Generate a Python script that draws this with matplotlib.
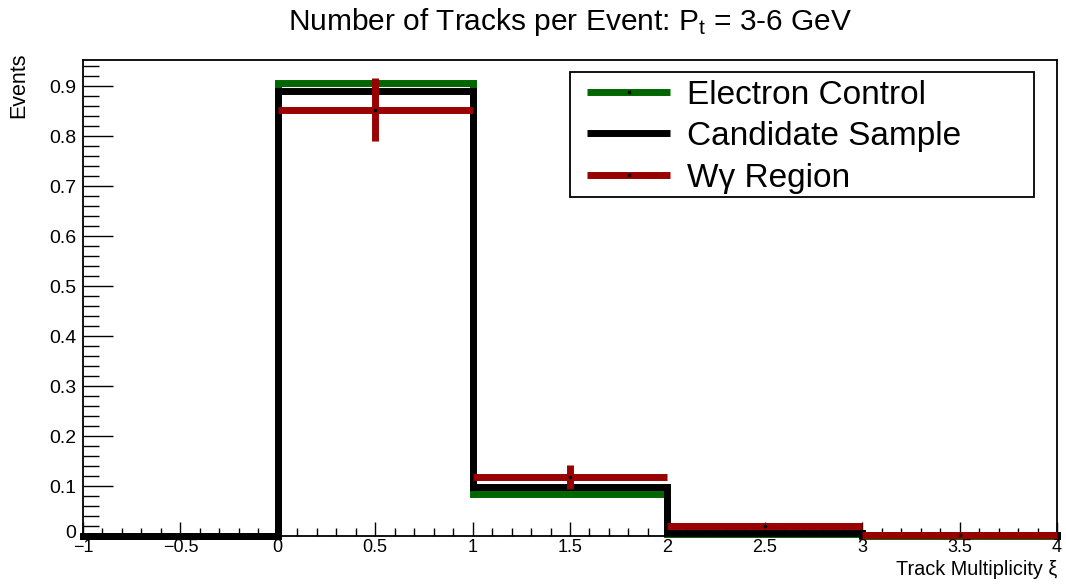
#!/usr/bin/env python3
import matplotlib

matplotlib.use("Agg")
import matplotlib.pyplot as plt
import matplotlib.transforms as mtransforms
import numpy as np
from matplotlib.lines import Line2D
from matplotlib.patches import Rectangle
from matplotlib.ticker import FuncFormatter, MultipleLocator

# histogram data (5 bins of width 1 from -1 to 4)
bin_edges = [-1, 0, 1, 2, 3, 4]
electron_control = [0.0, 0.906, 0.085, 0.004, 0.001]
candidate_sample = [0.0, 0.890, 0.099, 0.006, 0.002]
wgamma_centers = [0.5, 1.5, 2.5, 3.5]
wgamma_values = [0.853, 0.118, 0.021, 0.003]
wgamma_errors = [0.063, 0.024, 0.005, 0.001]

labels = ["Electron Control", "Candidate Sample", "W\u03b3 Region"]
colors = ["#006600", "#000000", "#990000"]

title = r"Number of Tracks per Event: P$_{\mathrm{t}}$ = 3-6 GeV"
x_label = "Track Multiplicity \u03be"
y_label = "Events"

plt.rcParams["font.family"] = ["Liberation Sans", "DejaVu Sans"]
plt.rcParams["mathtext.fontset"] = "custom"
plt.rcParams["mathtext.rm"] = "Liberation Sans"
plt.rcParams["mathtext.it"] = "Liberation Sans"

W, H = 1066, 584
fig = plt.figure(figsize=(W / 100, H / 100), dpi=100)
fig.subplots_adjust(left=83 / W, right=1057 / W, bottom=1 - 536 / H, top=1 - 60 / H)
ax = fig.add_subplot(111)

lw = 5.0
for vals, col in [(electron_control, colors[0]), (candidate_sample, colors[1])]:
    p = ax.stairs(vals, bin_edges, baseline=0, fill=False, color=col, linewidth=lw, clip_on=False)
    p.set_joinstyle("miter")
    p.set_capstyle("projecting")

bin_half = np.diff(bin_edges)[1:] / 2.0
ax.errorbar(
    wgamma_centers,
    wgamma_values,
    xerr=bin_half,
    yerr=wgamma_errors,
    fmt="s",
    ms=1.6,
    mfc="k",
    mec="k",
    ecolor=colors[2],
    elinewidth=lw,
    capsize=0,
    clip_on=False,
    zorder=3,
)

ax.set_xlim(-1, 4)
ax.set_ylim(0, 0.953)

fmt = FuncFormatter(lambda v, pos: ("%g" % round(v, 3)).replace("-", "\u2212"))
ax.xaxis.set_major_locator(MultipleLocator(0.5))
ax.xaxis.set_minor_locator(MultipleLocator(0.1))
ax.yaxis.set_major_locator(MultipleLocator(0.1))
ax.yaxis.set_minor_locator(MultipleLocator(0.02))
ax.xaxis.set_major_formatter(fmt)
ax.yaxis.set_major_formatter(fmt)

ax.tick_params(axis="both", which="both", direction="in", top=False, right=False, width=1.0)
ax.tick_params(axis="y", which="major", length=21.5, pad=5, labelsize=14)
ax.tick_params(axis="y", which="minor", length=11.5)
ax.tick_params(axis="x", which="major", length=10, pad=2.5, labelsize=13)
ax.tick_params(axis="x", which="minor", length=6)
for s in ax.spines.values():
    s.set_linewidth(1.3)

fig.text(570 / W, 1 - 30 / H, title, ha="center", va="baseline", fontsize=21.5)
fig.text(1057 / W, 1 - 575 / H, x_label, ha="right", va="baseline", fontsize=14.3)
fig.text(19 / W, 1 - 52 / H, y_label, ha="center", va="top", rotation=90, fontsize=15.5)

# legend box drawn by hand, ROOT style
fig.patches.append(
    Rectangle((570 / W, 1 - 197 / H), 464 / W, 125 / H, transform=fig.transFigure,
              facecolor="white", edgecolor="black", linewidth=1.3, zorder=5)
)
row_y = [92, 133, 175]
for lab, col, ry, i in zip(labels, colors, row_y, range(3)):
    yf = 1 - ry / H
    fig.lines.append(
        Line2D([587 / W, 670 / W], [yf, yf], transform=fig.transFigure, color=col,
               lw=lw, solid_capstyle="butt", zorder=6)
    )
    if i != 1:
        fig.lines.append(
            Line2D([628.5 / W], [yf], transform=fig.transFigure, marker="s", ms=1.6,
                   mfc="k", mec="k", zorder=7)
        )
    fig.text(687 / W, yf, lab, ha="left", va="center_baseline", fontsize=24, zorder=7)

# nudge the "0" label on y up a little so it clears the "-1" below it
fig.canvas.draw()
for t in ax.yaxis.get_major_ticks():
    if abs(t.get_loc()) < 1e-9:
        lab = t.label1
        lab.set_transform(lab.get_transform() + mtransforms.ScaledTranslation(0, 4 / 100, fig.dpi_scale_trans))

fig.savefig("out.png", dpi=100)
